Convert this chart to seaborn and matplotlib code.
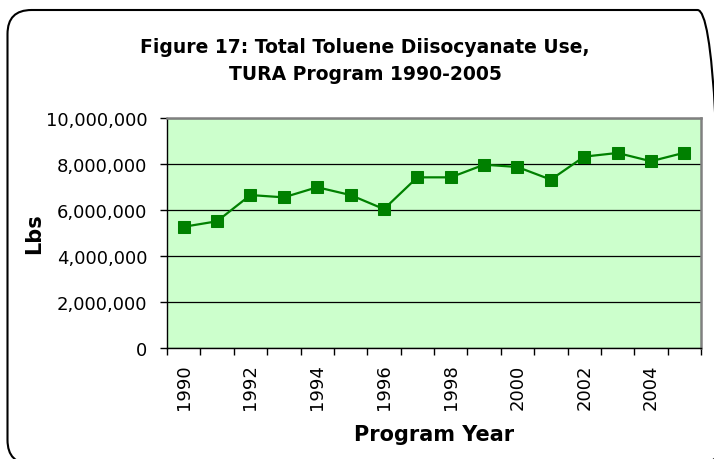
import matplotlib
matplotlib.use("Agg")
import matplotlib.pyplot as plt
import seaborn as sns
import pandas as pd
from matplotlib.patches import FancyBboxPatch
from matplotlib.ticker import FuncFormatter, MultipleLocator

years = list(range(1990, 2006))
lbs = [5270000, 5510000, 6650000, 6550000, 6990000, 6650000, 6040000, 7420000,
       7420000, 7970000, 7870000, 7320000, 8320000, 8480000, 8120000, 8490000]
tick_years = [1990, 1992, 1994, 1996, 1998, 2000, 2002, 2004]
title = "Figure 17: Total Toluene Diisocyanate Use,\nTURA Program 1990-2005"

df = pd.DataFrame({"Year": years, "Lbs": lbs})

sns.set_style("white")
plt.rcParams["font.family"] = ["DejaVu Sans"]
plt.rcParams["text.color"] = "black"
plt.rcParams["axes.labelcolor"] = "black"
plt.rcParams["xtick.color"] = "black"
plt.rcParams["ytick.color"] = "black"

fig = plt.figure(figsize=(7.14, 4.6), dpi=100)
ax = fig.add_axes([167/714, 1-349/460, (701-167)/714, (349-119)/460])
ax.set_facecolor("#CCFFCC")

sns.lineplot(data=df, x="Year", y="Lbs", ax=ax, color="#008000", linewidth=1.6,
             marker="s", markersize=8, markeredgecolor="#008000", zorder=3)

ax.set_xlim(1989.5, 2005.5)
ax.set_ylim(0, 10000000)
ax.yaxis.set_major_locator(MultipleLocator(2000000))
ax.yaxis.set_major_formatter(FuncFormatter(lambda v, p: f"{int(v):,}"))
ax.grid(axis="y", color="black", linewidth=0.9)
ax.set_axisbelow(True)

ax.set_xticks(tick_years)
ax.set_xticklabels([str(y) for y in tick_years], rotation=90)
ax.set_xticks([y - 0.5 for y in years] + [2005.5], minor=True)
ax.tick_params(axis="x", which="major", length=0, pad=11, labelsize=13)
ax.tick_params(axis="x", which="minor", length=5, width=1, color="black", direction="out")
ax.tick_params(axis="y", which="major", length=5, width=1, color="black",
               direction="out", labelsize=13, pad=9)
ax.tick_params(left=True, bottom=True)
ax.xaxis.set_tick_params(which="minor", bottom=True)

for s in ["left", "bottom"]:
    ax.spines[s].set_color("black")
    ax.spines[s].set_linewidth(1.0)
for s in ["top", "right"]:
    ax.spines[s].set_color("#808080")
    ax.spines[s].set_linewidth(1.8)

ax.set_xlabel("Program Year", fontsize=15, fontweight="bold", labelpad=11)
ax.set_ylabel("Lbs", fontsize=15, fontweight="bold", labelpad=1)

fig.text(365/714, 1-61/460, title, ha="center", va="center", fontsize=13.5,
         fontweight="bold", linespacing=1.5)

border = FancyBboxPatch((7.5, -5), 714, 454, boxstyle="round,pad=0,rounding_size=24",
                        transform=None, fill=False, edgecolor="black", linewidth=1.5)
fig.patches.append(border)

fig.savefig("out.png", dpi=100)
